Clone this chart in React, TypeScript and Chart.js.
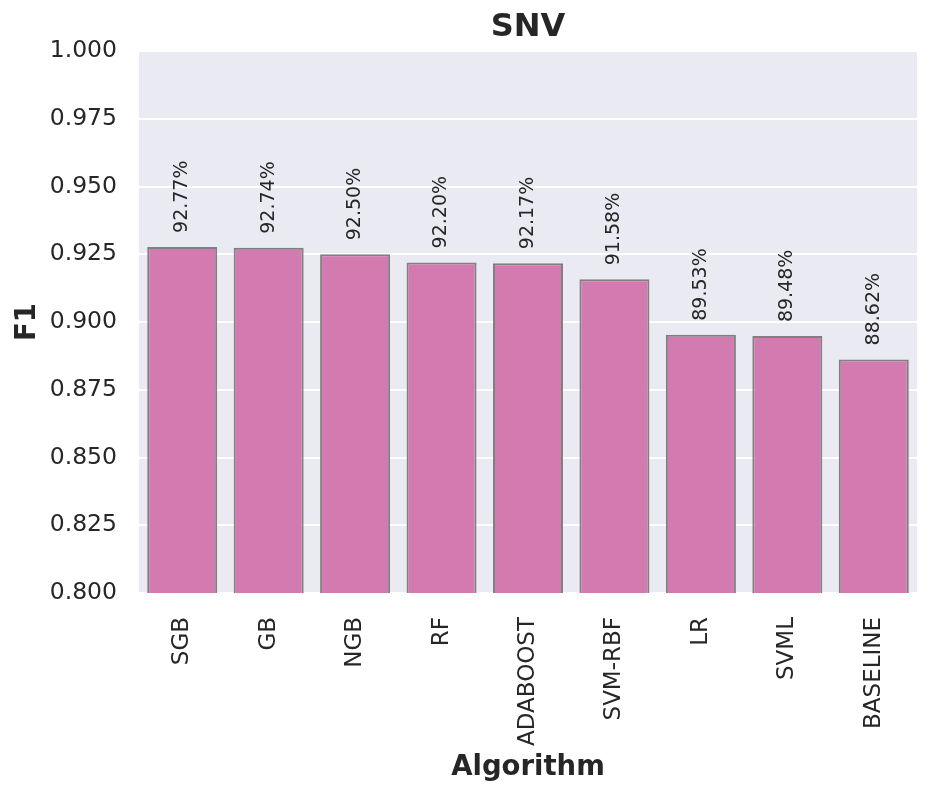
import React, { useEffect, useRef } from "react";
import { Chart, registerables } from "chart.js";

Chart.register(...registerables);

const categories = ["SGB", "GB", "NGB", "RF", "ADABOOST", "SVM-RBF", "LR", "SVML", "BASELINE"];
const f1Values = [0.9277, 0.9274, 0.925, 0.922, 0.9217, 0.9158, 0.8953, 0.8948, 0.8862];
const valueLabels = ["92.77%", "92.74%", "92.50%", "92.20%", "92.17%", "91.58%", "89.53%", "89.48%", "88.62%"];
const yTicks = [0.8, 0.825, 0.85, 0.875, 0.9, 0.925, 0.95, 0.975, 1.0];
const chartTitle = "SNV";

const FONT = "'DejaVu Sans', sans-serif";
const TEXT = "#262626";

const bgPlugin = {
  id: "bgPlugin",
  beforeDraw(chart: any) {
    const { ctx, chartArea } = chart;
    ctx.save();
    ctx.fillStyle = "#eaeaf2";
    ctx.fillRect(chartArea.left, chartArea.top, chartArea.right - chartArea.left, chartArea.bottom - chartArea.top);
    ctx.restore();
  },
};

const labelPlugin = {
  id: "labelPlugin",
  afterDatasetsDraw(chart: any) {
    const { ctx, chartArea } = chart;
    const meta = chart.getDatasetMeta(0);
    ctx.save();
    ctx.fillStyle = TEXT;
    ctx.font = `19px ${FONT}`;
    ctx.textAlign = "left";
    ctx.textBaseline = "middle";
    meta.data.forEach((bar: any, i: number) => {
      ctx.save();
      ctx.translate(bar.x, bar.y - 14);
      ctx.rotate(-Math.PI / 2);
      ctx.fillText(valueLabels[i], 0, 0);
      ctx.restore();
    });
    ctx.font = `bold 32px ${FONT}`;
    ctx.textAlign = "center";
    ctx.textBaseline = "alphabetic";
    ctx.fillText(chartTitle, (chartArea.left + chartArea.right) / 2, 36);
    ctx.restore();
  },
};

export default function App() {
  const ref = useRef<HTMLCanvasElement>(null);
  useEffect(() => {
    document.body.style.margin = "0";
    const chart = new Chart(ref.current as HTMLCanvasElement, {
      type: "bar",
      data: {
        labels: categories,
        datasets: [
          {
            data: f1Values,
            backgroundColor: "#d37bb0",
            borderColor: "#808080",
            borderWidth: 2,
            borderSkipped: false,
            categoryPercentage: 1,
            barPercentage: 0.81,
          },
        ],
      },
      options: {
        animation: false,
        responsive: true,
        maintainAspectRatio: false,
        layout: { padding: { left: 0, right: 15, top: 51, bottom: 0 } },
        plugins: {
          legend: { display: false },
          tooltip: { enabled: false },
          title: { display: false },
        },
        scales: {
          x: {
            grid: { display: false },
            border: { display: false },
            ticks: {
              color: TEXT,
              font: { family: FONT, size: 23 },
              minRotation: 90,
              maxRotation: 90,
              padding: 16,
              autoSkip: false,
            },
            title: {
              display: true,
              text: "Algorithm",
              color: TEXT,
              font: { family: FONT, size: 27.5, weight: "bold", lineHeight: 1.2 },
              padding: { top: 0, bottom: 14 },
            },
            afterFit(scale: any) {
              scale.height = 205;
            },
          },
          y: {
            min: 0.8,
            max: 1.0,
            grid: { color: "#ffffff", lineWidth: 2, drawTicks: false },
            border: { display: false },
            afterBuildTicks(scale: any) {
              scale.ticks = yTicks.map((v) => ({ value: v }));
            },
            ticks: {
              color: TEXT,
              font: { family: FONT, size: 23.5 },
              padding: 22,
              callback: (v: any) => Number(v).toFixed(3),
            },
            title: {
              display: true,
              text: "F1",
              color: TEXT,
              font: { family: FONT, size: 27.5, weight: "bold", lineHeight: 1.2 },
              padding: { top: 11, bottom: 0 },
            },
            afterFit(scale: any) {
              scale.width = 139;
            },
          },
        },
      },
      plugins: [bgPlugin, labelPlugin],
    });
    return () => chart.destroy();
  }, []);
  return (
    <div style={{ position: "fixed", left: 0, top: 0, width: 932, height: 798 }}>
      <canvas ref={ref} />
    </div>
  );
}
